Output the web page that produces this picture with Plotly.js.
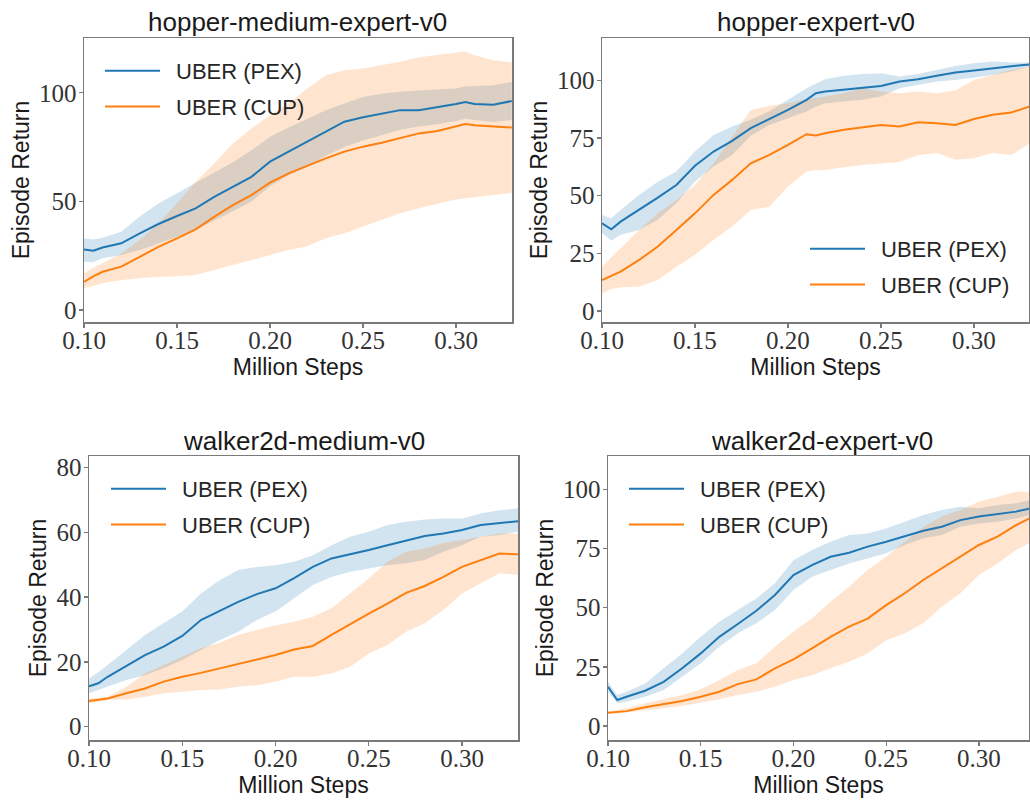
<!DOCTYPE html>
<html>
<head>
<meta charset="utf-8">
<script src="https://cdn.plot.ly/plotly-3.0.1.min.js"></script>
<style>html,body{margin:0;padding:0;background:#fff}#chart{width:1030px;height:800px}</style>
</head>
<body>
<div id="chart"></div>
<script>
// ---------------- DATA ----------------
const panelTitles = ["hopper-medium-expert-v0", "hopper-expert-v0", "walker2d-medium-v0", "walker2d-expert-v0"];
const seriesNames = ["UBER (PEX)", "UBER (CUP)"];
const xTickVals = [0.10, 0.15, 0.20, 0.25, 0.30];
const xTickText = ["0.10", "0.15", "0.20", "0.25", "0.30"];

// hopper-medium-expert-v0
const hmeSteps = [0.10,0.105,0.11,0.12,0.13,0.14,0.15,0.16,0.17,0.18,0.19,0.20,0.21,0.22,0.23,0.24,0.25,0.26,0.27,0.28,0.29,0.30,0.305,0.31,0.32,0.33];
const hmePexMean = [27.9,27.3,28.8,30.7,35.3,39.6,43.3,46.8,52.1,56.7,61.3,68.3,72.9,77.5,82.0,86.7,88.7,90.5,92.0,92.0,93.3,94.8,95.7,94.8,94.5,96.2];
const hmePexHigh = [33.0,32.5,33.3,36.0,43.0,49.0,53.7,58.6,63.5,68.0,73.5,79.8,84.0,88.0,92.0,95.0,98.0,99.5,100.5,101.0,101.5,102.0,103.0,103.0,103.5,105.0];
const hmePexLow  = [22.2,22.0,23.8,25.3,27.6,30.7,33.7,36.8,41.0,45.5,50.0,57.0,62.0,66.0,71.0,75.0,78.0,80.5,83.0,84.5,85.5,87.0,88.0,87.5,86.5,87.4];
const hmeCupMean = [13.0,15.5,17.6,20.0,24.5,29.1,33.0,37.1,42.9,48.3,52.9,58.6,62.9,66.4,69.8,72.9,75.2,77.0,79.0,81.3,82.4,84.4,85.6,85.1,84.4,84.0];
const hmeCupHigh = [16.9,19.5,21.5,26.0,32.2,39.9,49.0,59.0,67.5,76.7,83.6,89.7,95.0,102.0,108.0,110.4,111.2,112.7,114.3,116.3,117.3,118.4,119.0,117.3,115.0,114.0];
const hmeCupLow  = [10.0,11.2,12.3,13.8,14.6,15.3,15.6,16.1,18.4,20.7,23.0,25.3,27.6,29.4,33.0,35.3,38.3,41.4,44.5,46.8,49.0,50.9,51.5,52.1,52.9,54.0];

// hopper-expert-v0
const heSteps = [0.10,0.105,0.11,0.12,0.13,0.14,0.15,0.16,0.17,0.18,0.19,0.20,0.21,0.215,0.22,0.23,0.24,0.25,0.26,0.27,0.28,0.29,0.30,0.31,0.32,0.33];
const hePexMean = [38.0,35.4,38.7,43.8,49.1,54.6,62.9,69.1,73.7,79.2,83.1,87.1,91.5,94.4,95.1,95.8,96.5,97.5,99.4,100.4,101.9,103.3,104.2,105.2,105.9,106.9];
const hePexHigh = [41.6,40.2,43.8,50.3,56.0,60.4,69.1,76.3,79.9,83.0,86.5,91.5,96.5,98.5,100.4,101.9,102.7,103.0,101.6,102.7,104.5,106.2,107.4,108.1,107.7,107.7];
const hePexLow  = [33.7,30.5,33.0,35.1,39.5,46.7,56.1,62.6,67.6,75.9,80.6,83.5,86.4,88.5,90.0,90.8,91.5,92.9,96.5,98.0,99.4,100.1,101.2,102.3,103.8,105.9];
const heCupMean = [13.4,15.2,17.0,22.1,27.9,35.1,42.3,50.3,56.8,64.0,67.6,72.0,76.6,76.0,77.0,78.5,79.5,80.6,79.9,81.8,81.4,80.6,83.2,85.0,86.0,88.6];
const heCupHigh = [19.2,23.0,27.2,35.1,42.3,48.1,54.6,64.0,75.6,87.1,88.9,90.0,91.8,92.3,92.9,94.4,96.5,95.1,94.4,95.1,94.4,95.5,100.1,102.3,104.5,105.9];
const heCupLow  = [7.7,9.5,10.3,10.5,13.4,19.2,24.3,30.8,36.6,43.8,45.2,53.9,60.4,61.0,61.1,62.3,63.3,64.0,64.5,67.6,68.4,65.5,66.2,68.4,67.6,72.7];

// walker2d-medium-v0
const wmSteps = [0.10,0.105,0.11,0.12,0.13,0.14,0.15,0.16,0.17,0.18,0.19,0.20,0.21,0.22,0.23,0.24,0.25,0.26,0.27,0.28,0.29,0.30,0.31,0.32,0.33];
const wmPexMean = [12.5,13.4,15.4,18.7,22.1,24.7,28.0,32.9,35.8,38.5,40.9,42.7,45.8,49.3,51.9,53.1,54.5,56.0,57.3,58.8,59.6,60.7,62.2,62.9,63.4];
const wmPexHigh = [14.9,16.8,19.0,23.6,28.3,31.9,35.5,41.1,45.2,48.3,49.3,49.8,50.9,52.9,56.0,58.6,60.1,62.2,63.2,63.9,64.2,64.2,65.8,66.8,67.3];
const wmPexLow  = [10.3,11.2,12.3,14.4,15.9,18.0,20.6,23.6,26.7,29.3,32.9,35.5,39.6,43.7,46.2,47.8,48.8,49.8,50.4,51.4,54.0,56.0,58.6,59.1,60.1];
const wmCupMean = [7.9,8.3,8.7,10.3,11.8,13.9,15.4,16.6,18.0,19.2,20.6,22.1,23.8,24.9,28.3,31.7,34.9,38.0,41.3,43.4,46.2,49.3,51.4,53.4,53.2];
const wmCupHigh = [8.7,9.0,9.2,12.3,16.4,19.0,21.6,24.2,25.9,28.3,29.8,31.3,32.4,33.9,36.5,41.1,45.7,50.9,54.0,55.0,56.7,57.6,58.6,59.6,59.6];
const wmCupLow  = [7.2,7.6,8.2,8.4,9.2,10.3,10.8,11.3,11.5,12.3,12.8,13.9,15.4,15.4,16.4,18.5,22.6,25.2,29.3,31.9,36.0,41.1,44.2,47.3,46.8];

// walker2d-expert-v0
const weSteps = [0.10,0.105,0.11,0.12,0.13,0.14,0.15,0.16,0.17,0.18,0.19,0.20,0.21,0.22,0.23,0.24,0.25,0.26,0.27,0.28,0.29,0.30,0.31,0.32,0.33];
const wePexMean = [16.6,11.0,12.4,14.9,18.7,24.4,30.7,37.7,43.1,48.7,55.4,63.8,68.0,71.5,73.2,75.8,77.9,80.3,82.5,84.2,87.0,88.5,89.4,90.6,92.3];
const wePexHigh = [18.7,13.1,14.5,18.0,24.4,30.7,37.7,44.1,49.0,53.9,60.3,70.1,74.4,77.9,80.7,81.4,83.5,86.3,89.2,91.3,92.7,92.0,93.4,94.1,95.8];
const wePexLow  = [14.5,9.6,10.3,12.4,15.2,20.8,26.5,33.5,39.2,43.4,49.0,57.5,63.1,65.9,68.7,70.8,73.0,76.5,79.3,80.7,84.2,85.6,86.3,87.7,89.5];
const weCupMean = [5.6,6.0,6.3,7.9,9.2,10.6,12.4,14.5,17.7,19.7,24.4,28.2,32.8,37.7,42.0,45.4,51.1,56.1,61.7,66.6,71.3,76.5,80.0,84.9,88.8];
const weCupHigh = [6.1,6.8,7.5,9.6,11.3,13.1,15.5,19.4,23.7,26.5,33.5,39.9,45.5,52.5,58.9,65.9,71.5,77.9,84.2,88.5,91.3,94.8,96.9,99.0,99.0];
const weCupLow  = [5.1,5.3,5.6,6.5,7.5,8.5,9.9,11.3,13.1,14.5,16.6,19.4,21.5,24.4,27.2,30.7,36.3,39.2,43.4,50.4,56.1,63.8,68.7,74.4,78.5];

// ---------------- BUILD ----------------
const W = 1030, H = 800;
const BLUE = '#1f77b4', ORANGE = '#ff7f0e';
const BLUE_FILL = 'rgba(31,119,180,0.2)', ORANGE_FILL = 'rgba(255,127,14,0.2)';

const panels = [
  {steps: hmeSteps, pex: [hmePexMean, hmePexLow, hmePexHigh], cup: [hmeCupMean, hmeCupLow, hmeCupHigh],
   px: [84, 512, 38, 322], xr: [0.10, 0.3301], yr: [-5.5, 125.2], dtick: 50, leg: [100, 50], tx: 297.5, ty: 22},
  {steps: heSteps, pex: [hePexMean, hePexLow, hePexHigh], cup: [heCupMean, heCupLow, heCupHigh],
   px: [602, 1029, 38, 322], xr: [0.10, 0.3296], yr: [-4.8, 118.3], dtick: 25, leg: [805, 228], tx: 815.5, ty: 22},
  {steps: wmSteps, pex: [wmPexMean, wmPexLow, wmPexHigh], cup: [wmCupMean, wmCupLow, wmCupHigh],
   px: [89, 518, 456, 740], xr: [0.10, 0.3300], yr: [-4.1, 83.5], dtick: 20, leg: [106, 468], tx: 303.5, ty: 441},
  {steps: weSteps, pex: [wePexMean, wePexLow, wePexHigh], cup: [weCupMean, weCupLow, weCupHigh],
   px: [608, 1029, 456, 740], xr: [0.10, 0.3270], yr: [-5.9, 114.1], dtick: 25, leg: [624, 468], tx: 821.7, ty: 441}
];

const traces = [];
const layout = {
  width: W, height: H,
  margin: {l: 0, r: 0, t: 0, b: 0},
  paper_bgcolor: '#ffffff', plot_bgcolor: '#ffffff',
  showlegend: true,
  annotations: []
};

const tickFont = {family: '"Liberation Serif", "DejaVu Serif", serif', size: 25, color: '#333333'};
const labelFont = {family: '"Liberation Sans", Arial, sans-serif', size: 23, color: '#1a1a1a'};
const legendGap = '\u2002';

panels.forEach((p, i) => {
  const n = i === 0 ? '' : String(i + 1);
  const xa = 'x' + n, ya = 'y' + n;
  const legName = i === 0 ? 'legend' : 'legend' + (i + 1);

  // bands
  [[p.pex, BLUE_FILL], [p.cup, ORANGE_FILL]].forEach(([s, fc]) => {
    traces.push({
      x: p.steps.concat(p.steps.slice().reverse()),
      y: s[2].concat(s[1].slice().reverse()),
      xaxis: xa, yaxis: ya, type: 'scatter', mode: 'lines',
      fill: 'toself', fillcolor: fc, line: {width: 0, color: 'rgba(0,0,0,0)'},
      hoverinfo: 'skip', showlegend: false
    });
  });
  // mean lines
  [[p.pex, BLUE, seriesNames[0]], [p.cup, ORANGE, seriesNames[1]]].forEach(([s, c, nm], k) => {
    traces.push({
      x: p.steps, y: s[0], xaxis: xa, yaxis: ya, type: 'scatter', mode: 'lines',
      name: legendGap + nm, line: {color: c, width: 2}, legend: legName, legendgroup: 'g' + i + '_' + k
    });
  });

  const [l, r, t, b] = p.px;
  layout['xaxis' + n] = {
    domain: [l / W, r / W], anchor: ya, range: p.xr,
    tickvals: xTickVals, ticktext: xTickText, tickfont: tickFont,
    showline: true, mirror: true, linecolor: '#7a7a7a', linewidth: 1.5,
    ticks: 'outside', ticklen: 4, tickwidth: 1.3, tickcolor: '#7a7a7a',
    ticklabelstandoff: -9,
    showgrid: false, zeroline: false,
    title: {text: 'Million Steps', font: labelFont, standoff: 6}
  };
  layout['yaxis' + n] = {
    domain: [1 - b / H, 1 - t / H], anchor: xa, range: p.yr,
    dtick: p.dtick, tick0: 0, tickfont: tickFont,
    showline: true, mirror: true, linecolor: '#7a7a7a', linewidth: 1.5,
    ticks: 'outside', ticklen: 4, tickwidth: 1.3, tickcolor: '#7a7a7a',
    ticklabelstandoff: -3,
    showgrid: false, zeroline: false,
    title: {text: 'Episode Return', font: labelFont, standoff: 3}
  };
  layout[legName] = {
    x: p.leg[0] / W, y: 1 - p.leg[1] / H, xanchor: 'left', yanchor: 'top',
    xref: 'paper', yref: 'paper',
    bgcolor: 'rgba(255,255,255,0)', borderwidth: 0,
    font: {family: '"Liberation Sans", Arial, sans-serif', size: 22, color: '#262626'},
    itemwidth: 55, traceorder: 'grouped', tracegroupgap: 4
  };
  layout.annotations.push({
    text: panelTitles[i], xref: 'paper', yref: 'paper',
    x: p.tx / W, y: 1 - p.ty / H, xanchor: 'center', yanchor: 'middle',
    showarrow: false,
    font: {family: '"Liberation Sans", Arial, sans-serif', size: 26, color: '#1a1a1a'}
  });
});

Plotly.newPlot('chart', traces, layout, {staticPlot: true, displayModeBar: false});
</script>
</body>
</html>
